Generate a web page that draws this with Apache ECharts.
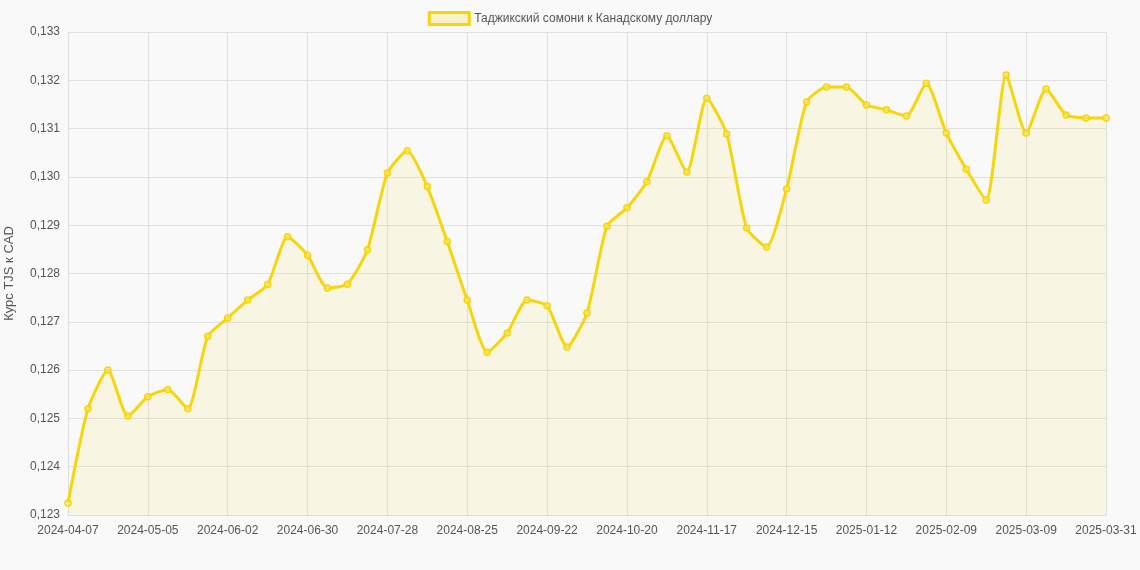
<!DOCTYPE html>
<html>
<head>
<meta charset="utf-8">
<script src="https://cdn.jsdelivr.net/npm/echarts@6/dist/echarts.min.js"></script>
<style>
    html, body { margin: 0; padding: 0; background: #f9f9f9; }
    #chart { width: 1140px; height: 570px; }
</style>
</head>
<body>
<div id="chart"></div>
<script>
// даты (еженедельно)
var dates = [
    "2024-04-07", "2024-04-14", "2024-04-21", "2024-04-28", "2024-05-05", "2024-05-12", "2024-05-19",
    "2024-05-26", "2024-06-02", "2024-06-09", "2024-06-16", "2024-06-23", "2024-06-30", "2024-07-07",
    "2024-07-14", "2024-07-21", "2024-07-28", "2024-08-04", "2024-08-11", "2024-08-18", "2024-08-25",
    "2024-09-01", "2024-09-08", "2024-09-15", "2024-09-22", "2024-09-29", "2024-10-06", "2024-10-13",
    "2024-10-20", "2024-10-27", "2024-11-03", "2024-11-10", "2024-11-17", "2024-11-24", "2024-12-01",
    "2024-12-08", "2024-12-15", "2024-12-22", "2024-12-29", "2025-01-05", "2025-01-12", "2025-01-19",
    "2025-01-26", "2025-02-02", "2025-02-09", "2025-02-16", "2025-02-23", "2025-03-02", "2025-03-09",
    "2025-03-16", "2025-03-23", "2025-03-30", "2025-03-31"
];
// курс TJS к CAD
var rates = [
    0.12325, 0.1252, 0.1260, 0.12505, 0.12545, 0.1256, 0.1252, 0.1267, 0.12708, 0.12745,
    0.12777, 0.12876, 0.12838, 0.1277, 0.12778, 0.12849, 0.13008, 0.13054, 0.1298, 0.12866,
    0.12745, 0.12637, 0.12677, 0.12745, 0.12733, 0.12648, 0.12718, 0.12898, 0.12936, 0.1299,
    0.13085, 0.1301, 0.13163, 0.13089, 0.12894, 0.12855, 0.12975, 0.13155, 0.13186, 0.13186,
    0.13149, 0.13139, 0.13126, 0.13194, 0.13091, 0.13016, 0.12952, 0.13211, 0.13091, 0.13182,
    0.13128, 0.13122, 0.13122
];

(function() {
    var myChart = echarts.init(document.getElementById("chart"));
    var option = {
        backgroundColor: "#f9f9f9",
        animation: false,
        legend: {
            top: 6,
            itemWidth: 40,
            itemHeight: 12,
            textStyle: { color: "#555", fontSize: 12, fontFamily: "Liberation Sans" },
            data: [{ name: "Таджикский сомони к Канадскому доллару", icon: "rect",
                itemStyle: { color: "rgba(250,214,10,0.2)", borderColor: "#f5d60a", borderWidth: 3 } }]
        },
        grid: { left: 68, right: 34, top: 32, bottom: 55, containLabel: false, outerBoundsMode: "none" },
        xAxis: {
            type: "category",
            boundaryGap: false,
            data: dates,
            axisTick: { show: false },
            axisLine: { lineStyle: { color: "#ddd" } },
            axisLabel: { color: "#555", fontSize: 12, interval: 3, margin: 10,
                fontFamily: "Liberation Sans" },
            splitLine: { show: true, interval: 3, lineStyle: { color: "#e0e0e0" } }
        },
        yAxis: {
            type: "value",
            min: 0.123,
            max: 0.133,
            interval: 0.001,
            name: "Курс TJS к CAD",
            nameLocation: "middle",
            nameGap: 52,
            nameTextStyle: { color: "#555", fontSize: 13, fontFamily: "Liberation Sans" },
            axisLine: { show: true, lineStyle: { color: "#ddd" } },
            axisLabel: { color: "#555", fontSize: 12, fontFamily: "Liberation Sans",
                formatter: function(v) { return v.toFixed(3).replace(".", ","); } },
            splitLine: { lineStyle: { color: "#e0e0e0" } }
        },
        series: [{
            name: "Таджикский сомони к Канадскому доллару",
            type: "line",
            data: rates,
            smooth: 0.2,
            symbol: "circle",
            symbolSize: 6,
            itemStyle: { color: "rgba(250,230,120,0.6)", borderColor: "#f5d60a", borderWidth: 1.5 },
            lineStyle: { color: "#f5d60a", width: 3 },
            areaStyle: { color: "rgba(245,214,10,0.13)" }
        }]
    };
    myChart.setOption(option);
})();
</script>
</body>
</html>
